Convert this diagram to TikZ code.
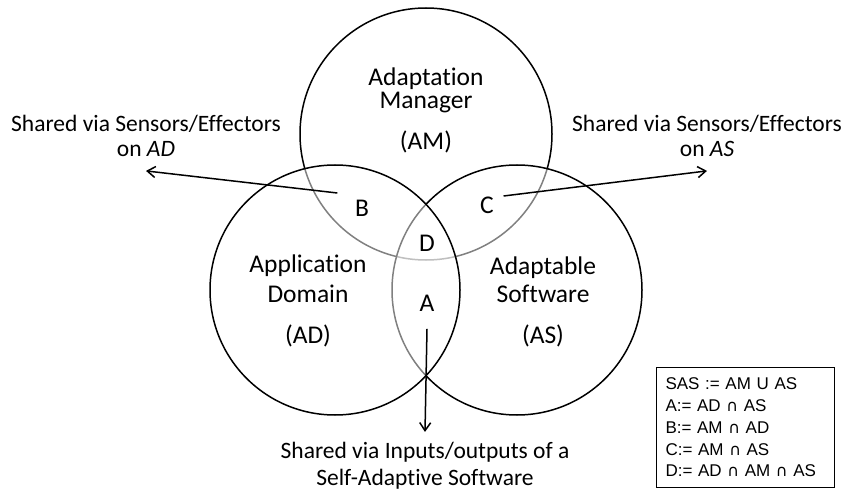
\documentclass[tikz,border=0pt]{standalone}
\usepackage{fontspec}
\setmainfont{Carlito}[Ligatures=NoCommon]
\newfontfamily\legendfont{Liberation Sans}
\newfontfamily\capfont{DejaVu Sans}
\usetikzlibrary{arrows.meta,positioning}

\newcommand{\isect}{{\capfont\fontsize{16}{21.8}\selectfont ∩}}

\begin{document}
\begin{tikzpicture}[x=1pt,y=-1pt,line width=1.5pt,
	>={Straight Barb[length=8pt,width=11pt]},
	set/.style={circle,draw,fill=white,fill opacity=0.5,minimum size=250pt},
	lbl/.style={font=\fontsize{23.5}{25}\selectfont,align=center,inner sep=0pt,anchor=base},
	region/.style={font=\fontsize{25.5}{28}\selectfont,inner sep=0pt}]
	\useasboundingbox (0,0) rectangle (844,492);

	% the three sets
	\node[set,minimum size=252pt] (AM) at (426,134) {};
	\node[set] (AS) at (517,290) {};
	\node[set] (AD) at (335,290) {};

	% base = last line
	\node[lbl,font=\fontsize{25.5}{24}\selectfont] (AMname) at (426,150) {Adaptation\\Manager\\[17pt](AM)};
	\node[lbl,font=\fontsize{25.5}{30}\selectfont] (ADname) at (308,343) {Application\\Domain\\[11pt](AD)};
	\node[lbl,font=\fontsize{25.5}{28}\selectfont] (ASname) at (543,343) {Adaptable\\Software\\[13pt](AS)};

	% intersections
	\node[region] (B) at (362,208) {B};
	\node[region] (C) at (487,205) {C};
	\node[region] (D) at (427,243) {D};
	\node[region] (A) at (427,303) {A};

	\node[lbl] (onAD) at (146,157) {Shared via Sensors/Effectors\\on \textit{AD}};
	\node[lbl] (onAS) at (707,157) {Shared via Sensors/Effectors\\on \textit{AS}};
	\node[lbl,font=\fontsize{23.5}{27}\selectfont] (onSAS) at (425,485) {Shared via Inputs/outputs of a\\Self-Adaptive Software};

	\draw[->] ([shift={(-17,-15)}]B.west) -- ([yshift=-13pt]onAD.south);
	\draw[->] ([shift={(9,-9)}]C.east) -- ([yshift=-13pt]onAS.south);
	\draw[->] ([yshift=-17pt]A.south) -- ([yshift=9pt]onSAS.north);

	% legend
	\node[draw,line width=1pt,anchor=north west,minimum width=178pt,minimum height=120pt,
		text width=160pt,inner xsep=9pt,align=left,
		font=\legendfont\fontsize{17}{21.8}\selectfont] (legend) at (656,367)
		{SAS := AM U AS\\A:= AD \isect{} AS\\B:= AM \isect{} AD\\C:= AM \isect{} AS\\D:= AD \isect{} AM \isect{} AS};
\end{tikzpicture}
\end{document}
